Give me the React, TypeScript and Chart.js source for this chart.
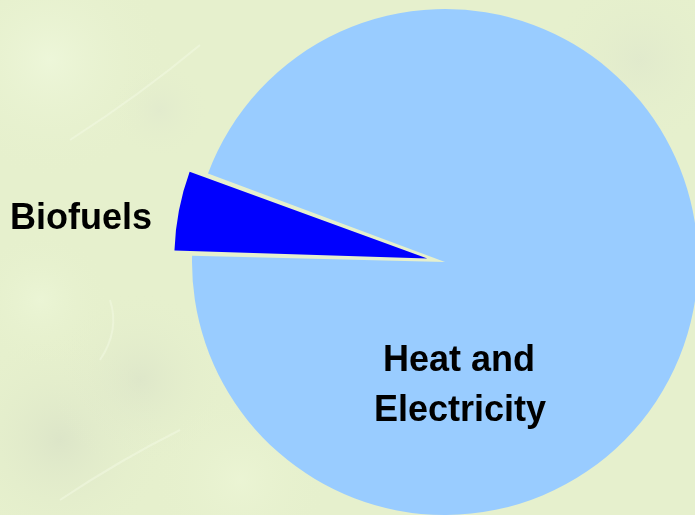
import React, { useEffect, useRef } from "react";
import { Chart, registerables } from "chart.js";

Chart.register(...registerables);

const categories = ["Biofuels", "Heat and Electricity"];
const shares = [5.3, 94.7];
const sliceColors = ["#0000ff", "#99ccff"];
const sliceOffsets = [72, 0];

const bgPlugin = {
  id: "leafBg",
  beforeDraw(chart: any) {
    const { ctx, width, height } = chart;
    ctx.save();
    ctx.fillStyle = "#e6f0cd";
    ctx.fillRect(0, 0, width, height);
    const blobs: [number, number, number, string][] = [
      [50, 60, 120, "rgba(240,249,222,0.7)"],
      [160, 110, 50, "rgba(222,230,205,0.5)"],
      [60, 440, 110, "rgba(212,220,196,0.55)"],
      [140, 380, 90, "rgba(214,222,198,0.5)"],
      [240, 480, 90, "rgba(238,247,216,0.6)"],
      [640, 60, 90, "rgba(220,228,204,0.5)"],
      [40, 300, 70, "rgba(238,248,218,0.6)"],
    ];
    for (const [x, y, r, c] of blobs) {
      const g = ctx.createRadialGradient(x, y, 0, x, y, r);
      g.addColorStop(0, c);
      g.addColorStop(1, "rgba(230,240,205,0)");
      ctx.fillStyle = g;
      ctx.fillRect(0, 0, width, height);
    }
    ctx.strokeStyle = "rgba(244,251,230,0.45)";
    ctx.lineWidth = 2;
    ctx.beginPath();
    ctx.moveTo(70, 140);
    ctx.quadraticCurveTo(140, 95, 200, 45);
    ctx.moveTo(110, 300);
    ctx.quadraticCurveTo(120, 330, 100, 360);
    ctx.moveTo(60, 500);
    ctx.quadraticCurveTo(120, 460, 180, 430);
    ctx.stroke();
    ctx.restore();
  },
};

// Keep the exploded slice at the same outer radius as the rest of the pie
const explodeFixPlugin = {
  id: "explodeFix",
  afterDatasetsUpdate(chart: any) {
    const meta = chart.getDatasetMeta(0);
    meta.data.forEach((arc: any, i: number) => {
      const off = (sliceOffsets[i] || 0) / 4;
      if (!off) return;
      const circ = arc.endAngle - arc.startAngle;
      const fix = 1 - Math.sin(Math.min(Math.PI, circ || 0));
      arc.outerRadius = arc.outerRadius - off * fix;
    });
  },
};

const labelPlugin = {
  id: "sliceLabels",
  afterDraw(chart: any) {
    const { ctx } = chart;
    ctx.save();
    ctx.fillStyle = "#000000";
    ctx.font = "bold 36px 'Liberation Sans', Arial, sans-serif";
    ctx.textBaseline = "alphabetic";
    ctx.textAlign = "left";
    ctx.fillText(categories[0], 10, 229);
    ctx.textAlign = "center";
    ctx.fillText("Heat and", 459, 371);
    ctx.fillText("Electricity", 460, 421);
    ctx.restore();
  },
};

export default function App() {
  const ref = useRef<HTMLCanvasElement | null>(null);
  useEffect(() => {
    document.body.style.margin = "0";
    const chart = new Chart(ref.current as HTMLCanvasElement, {
      type: "pie",
      data: {
        labels: categories,
        datasets: [
          {
            data: shares,
            backgroundColor: sliceColors,
            borderWidth: 0,
            offset: sliceOffsets,
            radius: 253,
          } as any,
        ],
      },
      options: {
        responsive: false,
        animation: false,
        rotation: 271.4,
        layout: { padding: { left: 195, right: 0, top: 9, bottom: 0 } },
        plugins: {
          legend: { display: false },
          tooltip: { enabled: false },
        },
      },
      plugins: [bgPlugin, explodeFixPlugin, labelPlugin],
    });
    return () => chart.destroy();
  }, []);
  return (
    <div style={{ position: "absolute", left: 0, top: 0, width: 695, height: 515 }}>
      <canvas ref={ref} width={695} height={515} />
    </div>
  );
}
